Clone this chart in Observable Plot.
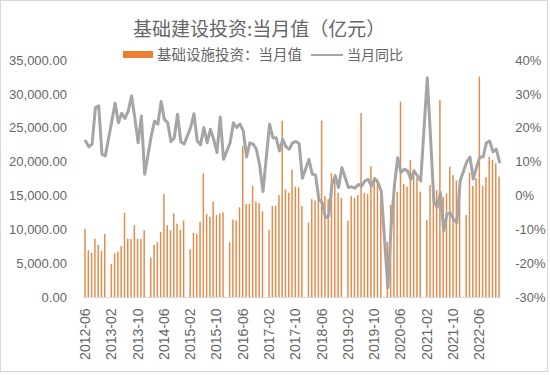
<!DOCTYPE html>
<html><head><meta charset="utf-8">
<script src="https://cdn.jsdelivr.net/npm/d3@7"></script>
<script src="https://cdn.jsdelivr.net/npm/@observablehq/plot@0.6"></script>
<style>
body{margin:0;background:#fff;}
#wrap{position:relative;width:550px;height:375px;overflow:hidden;background:#fff;}
#frame{position:absolute;left:0;top:0;width:546px;height:370px;border:1px solid #D9D9D9;pointer-events:none;}
#chart{position:absolute;left:0;top:0;}
.t{position:absolute;white-space:nowrap;color:#666666;font-family:"Noto Sans CJK SC","Noto Sans",sans-serif;}
#title{left:133px;top:18px;font-size:19px;line-height:19px;}
#leg1sw{position:absolute;left:123px;top:51px;width:30px;height:7px;background:#ED7D31;}
#leg1{left:157px;top:46px;font-size:14.5px;line-height:16px;}
#leg2sw{position:absolute;left:311px;top:53.5px;width:32px;height:2px;background:#A5A5A5;}
#leg2{left:347px;top:46px;font-size:14px;line-height:16px;}
</style></head><body>
<div id="wrap">
<div id="chart"></div>
<div class="t" id="title">基础建设投资:当月值（亿元）</div>
<div id="leg1sw"></div><div class="t" id="leg1">基础设施投资：当月值</div>
<div id="leg2sw"></div><div class="t" id="leg2">当月同比</div>
<div id="frame"></div>
</div>
<script>
// Categories: monthly, 2012-06 .. 2022-12
const months = d3.utcMonths(new Date(Date.UTC(2012,5,1)), new Date(Date.UTC(2023,0,1))).map(d3.utcFormat("%Y-%m"));

// 基础设施投资：当月值 (亿元); January combined into February -> null
const investment = [
  10100, 6900, 6500, 8600, 7700, 6800, 9300,
  null, 4900, 6450, 6700, 7550, 12450, 8600, 8550, 10600, 8600, 8550, 9850,
  null, 5800, 7700, 8100, 9600, 15200, 10600, 9850, 12350, 10800, 9900, 11300,
  null, 7050, 9500, 9300, 11100, 18250, 12250, 11850, 14100, 12100, 12350, 12500,
  null, 8100, 11450, 11300, 13250, 22300, 13750, 13750, 16400, 14100, 13900, 12650,
  null, 9900, 13450, 13450, 15050, 26050, 15900, 15400, 18850, 16300, 16200, 13450,
  null, 11000, 14450, 14250, 14900, 26050, 14900, 14450, 18250, 18150, 15400, 14600,
  null, 11250, 14900, 14650, 15050, 27150, 15400, 15200, 19300, 17550, 17400, 14600,
  null, 8150, 13600, 15400, 15550, 28850, 16700, 16300, 20250, 18750, 17550, 15550,
  null, 11350, 16550, 16300, 15800, 29100, 14800, 15300, 19250, 18000, 17200, 16550,
  null, 12100, 18350, 16400, 17550, 32550, 16400, 17700, 20700, 20250, 19750, 17800
];

// 当月同比 (%)
const yoy = [
  16.2, 14.5, 15.3, 26.1, 26.6, 12.3, 11.8,
  null, 22.1, 27.4, 21.6, 24.4, 22.9, 25.1, 29.5, 23.1, 15.7, 23.6, 6.4,
  null, 17.7, 22.1, 21.2, 27.9, 22.6, 21.6, 16.0, 17.2, 24.1, 16.0, 15.3,
  null, 20.2, 24.3, 16.2, 15.1, 20.2, 15.7, 19.7, 16.7, 12.8, 23.3, 10.8,
  null, 15.7, 21.6, 20.2, 21.2, 19.2, 11.5, 15.7, 15.3, 13.8, 9.0, 1.3,
  null, 21.2, 17.2, 17.2, 13.3, 16.7, 14.5, 13.8, 15.7, 16.1, 15.5, 5.2,
  null, 10.8, 6.4, 6.2, -0.9, -2.0, -6.4, -5.9, 3.4, 5.9, 2.5, 8.4,
  null, 2.5, 2.7, 2.3, 3.4, 2.9, 4.4, 4.9, 2.9, 5.2, 3.9, 1.4,
  null, -27.1, -9.0, 3.0, 11.3, 6.9, 7.9, 7.4, 4.9, 7.4, 5.9, 4.4,
  null, 34.9, 17.2, -1.5, -3.4, 1.0, -10.3, -5.4, -5.0, -6.9, -7.9, 4.4,
  null, 10.0, 11.5, 5.0, 8.5, 11.5, 11.5, 15.7, 16.2, 13.0, 13.8, 10.0
];

// Tick labels
const xTicks = ["2012-06","2013-02","2013-10","2014-06","2015-02","2015-10","2016-06","2017-02","2017-10","2018-06","2019-02","2019-10","2020-06","2021-02","2021-10","2022-06"];
const leftTicks = [0, 5000, 10000, 15000, 20000, 25000, 30000, 35000];
const rightTicks = [-30, -20, -10, 0, 10, 20, 30, 40];

const leftDomain = [0, 35000];
const rightDomain = [-30, 40];
// map right-axis percent onto the shared y scale
const toLeft = p => (p - rightDomain[0]) / (rightDomain[1] - rightDomain[0]) * (leftDomain[1] - leftDomain[0]) + leftDomain[0];
const toRight = v => (v - leftDomain[0]) / (leftDomain[1] - leftDomain[0]) * (rightDomain[1] - rightDomain[0]) + rightDomain[0];

const bars = months.map((m, i) => ({month: m, value: investment[i]})).filter(d => d.value != null);
const line = months.map((m, i) => ({month: m, yoy: yoy[i]})).filter(d => d.yoy != null);

const numFont = "'Liberation Sans', Arial, sans-serif";

const chart = Plot.plot({
  width: 550,
  height: 375,
  marginTop: 60,
  marginBottom: 78,
  marginLeft: 83.4,
  marginRight: 49.3,
  style: {background: "transparent", color: "#595959", fontFamily: numFont},
  x: {type: "band", domain: months, paddingInner: 0.55, paddingOuter: 0.275, axis: null},
  y: {domain: leftDomain, axis: null},
  marks: [
    Plot.barY(bars, {x: "month", y: "value", fill: "#E38C4C"}),
    Plot.ruleY([0], {stroke: "#D9D9D9", strokeWidth: 1}),
    Plot.lineY(line, {x: "month", y: d => toLeft(d.yoy), stroke: "#A5A5A5", strokeWidth: 3, strokeLinejoin: "round", strokeLinecap: "round"}),
    Plot.axisY(leftTicks, {anchor: "left", label: null, tickSize: 0, tickPadding: 17, fontSize: 13, fill: "#666666", tickFormat: d3.format(",.2f")}),
    Plot.axisY(rightTicks.map(toLeft), {anchor: "right", label: null, tickSize: 0, tickPadding: 14, fontSize: 13, fill: "#666666", tickFormat: v => Math.round(toRight(v)) + "%"}),
    Plot.axisX(xTicks, {anchor: "bottom", label: null, tickSize: 0, tickPadding: 11, tickRotate: -90, fontSize: 14, fill: "#666666"})
  ]
});
document.getElementById("chart").appendChild(chart);
</script>
</body></html>
